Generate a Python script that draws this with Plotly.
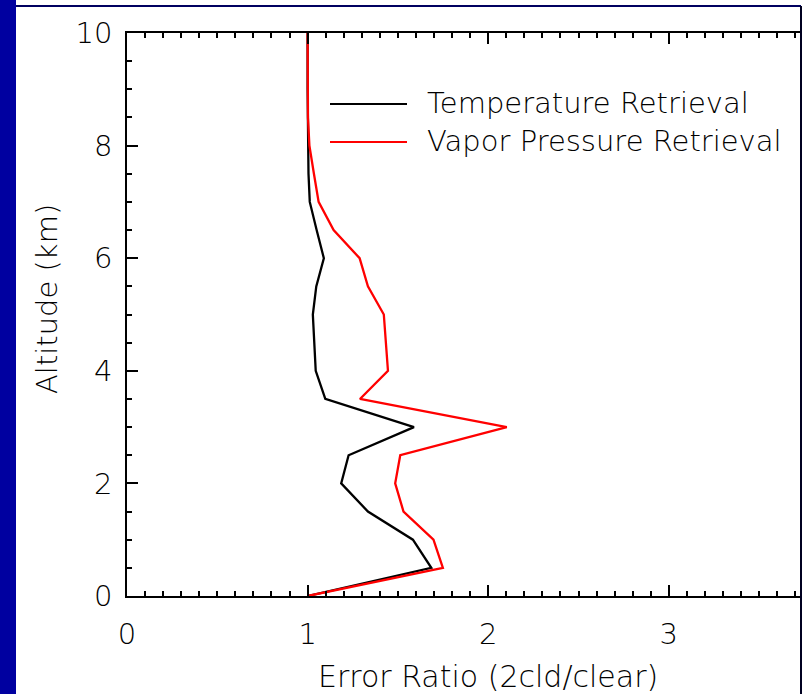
import plotly.graph_objects as go

# Altitude grid (km) and error ratios (2-cloud / clear) for each retrieval
altitude_km = [0.0, 0.5, 1.0, 1.5, 2.0, 2.5, 3.0, 3.5, 4.0, 4.5, 5.0,
               5.5, 6.0, 6.5, 7.0, 7.5, 8.0, 8.5, 9.0, 9.5, 10.0]
temperature_ratio = [1.00, 1.685, 1.583, 1.334, 1.186, 1.227, 1.589, 1.098,
                     1.045, 1.035, 1.029, 1.048, 1.090, 1.050, 1.012, 1.005,
                     1.002, 1.000, 1.000, 1.000, 1.000]
vapor_ratio = [1.00, 1.749, 1.697, 1.531, 1.485, 1.513, 2.103, 1.290,
               1.445, 1.433, 1.422, 1.334, 1.288, 1.144, 1.061, 1.035,
               1.010, 1.002, 1.000, 1.000, 1.000]

series_names = ["Temperature Retrieval", "Vapor Pressure Retrieval"]
series_colors = ["#000000", "#ff0000"]
x_ticks = [0, 1, 2, 3]
y_ticks = [0, 2, 4, 6, 8, 10]

W, H = 804, 694
L, R, T, B = 127, 3, 33, 98
PW, PH = W - L - R, H - T - B
TXT = "#000000"


def font(size):
    return dict(family="DejaVu Sans", weight=200, size=size, color=TXT)


def px(xp):
    return (xp - L) / PW


def py(yp):
    return (H - B - yp) / PH


fig = go.Figure()
for vals, name, col in zip([temperature_ratio, vapor_ratio], series_names, series_colors):
    fig.add_trace(go.Scatter(x=vals, y=altitude_km, mode="lines", name=name,
                             line=dict(color=col, width=2.3), showlegend=False))

shapes = [
    # slide frame: blue band on the left, thin rules at top and right
    dict(type="rect", xref="paper", yref="paper", x0=px(0), x1=px(16), y0=py(H), y1=py(0),
         fillcolor="#0000a0", line=dict(width=0), layer="above"),
    dict(type="line", xref="paper", yref="paper", x0=px(16), x1=px(801), y0=py(6), y1=py(6),
         line=dict(color="#000060", width=2)),
    dict(type="line", xref="paper", yref="paper", x0=px(801), x1=px(801), y0=py(6), y1=py(H),
         line=dict(color="#000020", width=2)),
]
annotations = []
# legend entries
for i, (name, col) in enumerate(zip(series_names, series_colors)):
    yl = 104 + 38 * i
    shapes.append(dict(type="line", xref="paper", yref="paper", x0=px(330), x1=px(407),
                       y0=py(yl), y1=py(yl), line=dict(color=col, width=2)))
    annotations.append(dict(text=name, xref="paper", yref="paper", x=px(425), y=py(yl - 1),
                            xanchor="left", yanchor="middle", showarrow=False,
                            font=font(29)))

# axis titles
annotations.append(dict(text="Error Ratio (2cld/clear)", xref="x", yref="paper", x=2.0,
                        y=py(676), xanchor="center", yanchor="middle", showarrow=False,
                        font=font(30)))
annotations.append(dict(text="Altitude (km)", xref="paper", yref="paper", x=px(47),
                        y=py(299), xanchor="center", yanchor="middle", textangle=-90,
                        showarrow=False, font=font(29)))

axis_common = dict(showgrid=False, zeroline=False, showline=True, linecolor="black",
                   linewidth=1.5, ticks="inside", ticklen=11, tickwidth=1.5,
                   tickcolor="black", tickfont=font(29))

fig.update_xaxes(range=[0, PW / 180.6], tickvals=x_ticks, mirror="ticks",
                 minor=dict(dtick=0.1, tick0=0, ticks="inside", ticklen=5,
                            tickwidth=1.5, tickcolor="black"),
                 ticklabelstandoff=11, **axis_common)
fig.update_yaxes(range=[0, 10], tickvals=y_ticks, mirror=False,
                 minor=dict(dtick=0.5, tick0=0, ticks="inside", ticklen=5,
                            tickwidth=1.5, tickcolor="black"),
                 ticklabelstandoff=7, **axis_common)

fig.update_layout(width=W, height=H, margin=dict(l=L, r=R, t=T, b=B),
                  paper_bgcolor="white", plot_bgcolor="white",
                  shapes=shapes, annotations=annotations)

fig.write_html("out.html")
